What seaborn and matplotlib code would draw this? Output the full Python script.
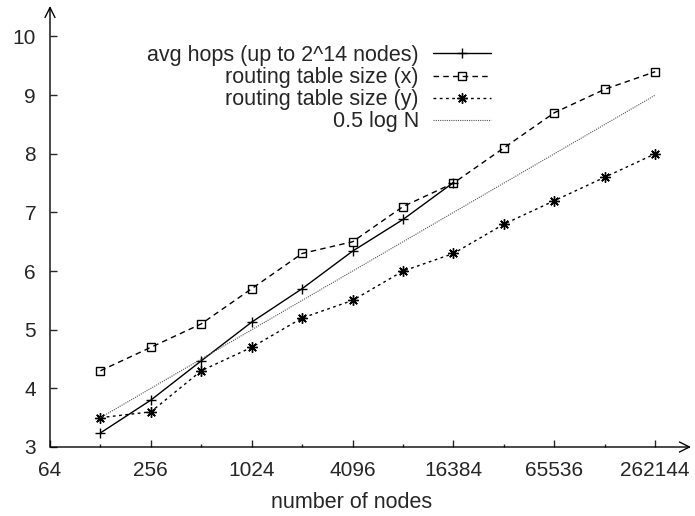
import matplotlib
matplotlib.use('Agg')
import matplotlib.pyplot as plt
from matplotlib.ticker import FixedLocator, NullFormatter
import seaborn as sns

nodes = [128, 256, 512, 1024, 2048, 4096, 8192, 16384, 32768, 65536, 131072, 262144]
avg_hops = [3.24, 3.80, 4.47, 5.13, 5.70, 6.34, 6.88, 7.51]
table_x = [4.3, 4.7, 5.1, 5.7, 6.3, 6.5, 7.1, 7.5, 8.1, 8.7, 9.1, 9.4]
table_y = [3.5, 3.6, 4.3, 4.7, 5.2, 5.5, 6.0, 6.3, 6.8, 7.2, 7.6, 8.0]
half_log = [3.5, 4.0, 4.5, 5.0, 5.5, 6.0, 6.5, 7.0, 7.5, 8.0, 8.5, 9.0]

major_ticks = [64, 256, 1024, 4096, 16384, 65536, 262144]
minor_ticks = [128, 512, 2048, 8192, 32768, 131072]
y_ticks = [3, 4, 5, 6, 7, 8, 9, 10]

sns.set_style('white')
plt.rcParams['font.family'] = ['Liberation Sans', 'DejaVu Sans']
plt.rcParams['font.size'] = 15

fig = plt.figure(figsize=(6.95, 5.16), dpi=100)
ax = fig.add_axes([50 / 695, 1 - 447 / 516, 641 / 695, 441 / 516])

sns.lineplot(x=nodes[:len(avg_hops)], y=avg_hops, ax=ax, color='black', lw=1,
             marker='+', markersize=7, markeredgecolor='black', markeredgewidth=1,
             label='avg hops (up to 2^14 nodes)')
sns.lineplot(x=nodes, y=table_x, ax=ax, color='black', lw=1, linestyle=(0, (4, 3)),
             marker='s', markersize=5.5, markerfacecolor='none', markeredgecolor='black',
             markeredgewidth=1, label='routing table size (x)')
sns.lineplot(x=nodes, y=table_y, ax=ax, color='black', lw=1, linestyle=(0, (2, 2.5)),
             marker=(8, 2, 0), markersize=7.5, markeredgecolor='black', markeredgewidth=1,
             label='routing table size (y)')
sns.lineplot(x=nodes, y=half_log, ax=ax, color='#555555', lw=0.8, linestyle=(0, (1, 1)),
             label='0.5 log N')

ax.set_xscale('log', base=2)
ax.set_xlim(64, 2 ** 18.71)
ax.set_ylim(3, 10.52)
ax.xaxis.set_major_locator(FixedLocator(major_ticks))
ax.xaxis.set_minor_locator(FixedLocator(minor_ticks))
ax.xaxis.set_minor_formatter(NullFormatter())
ax.set_xticklabels([str(t) for t in major_ticks])
ax.set_yticks(y_ticks)
ax.set_yticklabels([str(t) for t in y_ticks])
ax.tick_params(axis='x', which='major', direction='in', length=5, width=1, pad=10,
               bottom=True, labelsize=15)
ax.tick_params(axis='x', which='minor', direction='in', length=2.5, width=1, bottom=True)
ax.tick_params(axis='y', which='major', direction='in', length=5, width=1, pad=10,
               left=True, labelsize=15)

ax.set_xlabel('number of nodes', fontsize=15.5)
ax.xaxis.set_label_coords(302 / 641, -0.102)

for s in ax.spines.values():
    s.set_visible(False)
ax.annotate('', xy=(1, 0), xytext=(0, 0), xycoords='axes fraction',
            arrowprops=dict(arrowstyle='->', color='black', lw=1,
                            mutation_scale=18, shrinkA=0, shrinkB=0))
ax.annotate('', xy=(0, 1), xytext=(0, 0), xycoords='axes fraction',
            arrowprops=dict(arrowstyle='->', color='black', lw=1,
                            mutation_scale=18, shrinkA=0, shrinkB=0))

ax.legend(loc='upper right', bbox_to_anchor=(441 / 641, (447 - 45) / 441),
          frameon=False, markerfirst=False, handlelength=2.7, handletextpad=0.65,
          labelspacing=0.05, borderpad=0, borderaxespad=0, fontsize=15.5)

fig.savefig('out.png', dpi=100)
